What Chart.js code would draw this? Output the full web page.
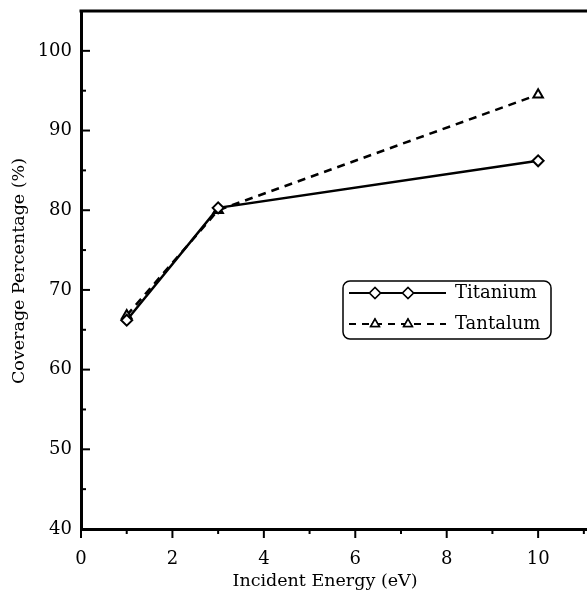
<!DOCTYPE html>
<html>
<head>
<meta charset="utf-8">
<script src="https://cdn.jsdelivr.net/npm/chart.js@4"></script>
<style>
  html, body { margin: 0; padding: 0; background: #fff; overflow: hidden; }
  #wrap { width: 587px; height: 594px; overflow: hidden; }
</style>
</head>
<body>
<div id="wrap"><canvas id="coverageChart" width="595" height="594"></canvas></div>
<script>
// Coverage vs incident energy
const energies = [1, 3, 10];
const titanium = [66.2, 80.3, 86.2];
const tantalum = [66.8, 80.0, 94.5];
const xTicks = [0, 2, 4, 6, 8, 10];
const yTicks = [40, 50, 60, 70, 80, 90, 100];

const FONT = '"DejaVu Serif", serif';

// frame, minor ticks, axis titles and the two-marker legend
const framePlugin = {
  id: 'frame',
  afterDraw(chart) {
    const { ctx, chartArea: a, scales: { x, y } } = chart;
    ctx.save();
    ctx.strokeStyle = '#000';
    ctx.lineCap = 'butt';
    ctx.lineWidth = 3;
    ctx.beginPath();
    ctx.moveTo(a.left - 1.5, a.top);
    ctx.lineTo(a.right, a.top);
    ctx.stroke();

    ctx.lineWidth = 2;
    for (let v = 0; v <= 11; v++) {
      const px = x.getPixelForValue(v);
      const len = v % 2 === 0 ? 9 : 5;
      ctx.beginPath();
      ctx.moveTo(px, a.bottom);
      ctx.lineTo(px, a.bottom + len);
      ctx.stroke();
    }
    for (let v = 40; v <= 105; v += 5) {
      const py = y.getPixelForValue(v);
      const len = v % 10 === 0 ? 9 : 5;
      ctx.beginPath();
      ctx.moveTo(a.left, py);
      ctx.lineTo(a.left + len, py);
      ctx.stroke();
    }

    // axis titles
    ctx.fillStyle = '#000';
    ctx.font = '17.5px ' + FONT;
    ctx.textAlign = 'center';
    ctx.textBaseline = 'middle';
    ctx.fillText('Incident Energy (eV)', 325, 581);
    ctx.save();
    ctx.translate(19, 271);
    ctx.rotate(-Math.PI / 2);
    ctx.fillText('Coverage Percentage (%)', 0, 0);
    ctx.restore();

    // legend box
    const bx = 343, by = 281, bw = 208, bh = 58, r = 7;
    ctx.lineWidth = 1.5;
    ctx.beginPath();
    ctx.roundRect(bx, by, bw, bh, r);
    ctx.fillStyle = '#fff';
    ctx.fill();
    ctx.stroke();

    const rows = [
      { label: 'Titanium', y: 293, dash: [], style: 'rectRot', r: 5.5 },
      { label: 'Tantalum', y: 324, dash: [7, 6], style: 'triangle', r: 5 }
    ];
    rows.forEach(row => {
      ctx.setLineDash(row.dash);
      ctx.lineWidth = 1.8;
      ctx.beginPath();
      ctx.moveTo(349, row.y);
      ctx.lineTo(446, row.y);
      ctx.stroke();
      ctx.setLineDash([]);
      [375, 408].forEach(mx => {
        ctx.lineWidth = 1.5;
        ctx.fillStyle = '#fff';
        Chart.helpers.drawPoint(ctx, { pointStyle: row.style, radius: row.r, borderWidth: 1.5 }, mx, row.y);
        ctx.fill();
        ctx.stroke();
      });
      ctx.fillStyle = '#000';
      ctx.font = '18px ' + FONT;
      ctx.textBaseline = 'middle';
      ctx.textAlign = 'left';
      ctx.fillText(row.label, 455, row.y);
    });
    ctx.restore();
  }
};

const ctx = document.getElementById('coverageChart').getContext('2d');
const chart = new Chart(ctx, {
  type: 'scatter',
  data: {
    datasets: [
      {
        label: 'Titanium',
        data: energies.map((e, i) => ({ x: e, y: titanium[i] })),
        showLine: true,
        borderColor: '#000',
        backgroundColor: '#fff',
        borderWidth: 2.5,
        pointStyle: 'rectRot',
        pointRadius: 5.5,
        pointBorderWidth: 2,
        pointBorderColor: '#000',
        pointBackgroundColor: '#fff'
      },
      {
        label: 'Tantalum',
        data: energies.map((e, i) => ({ x: e, y: tantalum[i] })),
        showLine: true,
        borderColor: '#000',
        backgroundColor: '#fff',
        borderWidth: 2.5,
        borderDash: [8, 6],
        pointStyle: 'triangle',
        pointRadius: 5.5,
        pointBorderWidth: 2,
        pointBorderColor: '#000',
        pointBackgroundColor: '#fff'
      }
    ]
  },
  options: {
    responsive: false,
    animation: false,
    layout: { padding: { top: 11, right: 0, left: 0, bottom: 0 } },
    plugins: { legend: { display: false }, tooltip: { enabled: false } },
    scales: {
      x: {
        type: 'linear',
        min: 0,
        max: 11.08,
        afterBuildTicks: s => { s.ticks = xTicks.map(v => ({ value: v })); },
        afterFit: s => { s.height = 65; s.paddingLeft = 0; s.paddingRight = 0; },
        grid: { display: false, drawTicks: false },
        border: { display: true, color: '#000', width: 3 },
        ticks: { color: '#000', padding: 20, font: { family: FONT, size: 18 }, maxRotation: 0 }
      },
      y: {
        min: 40,
        max: 105,
        afterBuildTicks: s => { s.ticks = yTicks.map(v => ({ value: v })); },
        afterFit: s => { s.width = 81; s.paddingTop = 0; s.paddingBottom = 0; },
        grid: { display: false, drawTicks: false },
        border: { display: true, color: '#000', width: 3 },
        ticks: { color: '#000', padding: 9, font: { family: FONT, size: 18 } }
      }
    }
  },
  plugins: [framePlugin]
});
</script>
</body>
</html>
